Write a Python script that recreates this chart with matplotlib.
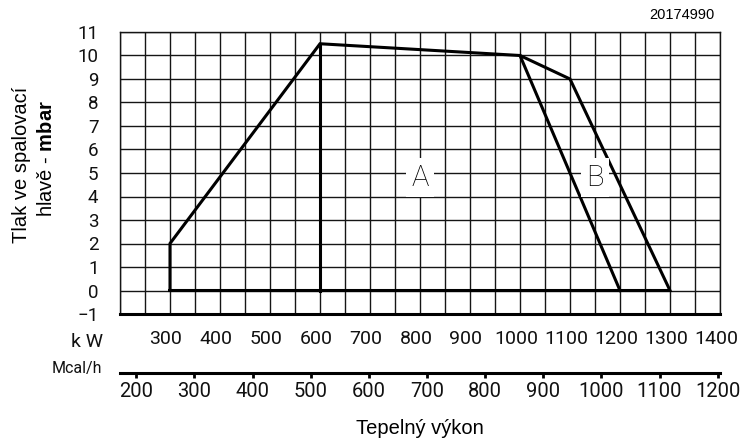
import numpy as np
import matplotlib
matplotlib.use('Agg')
import matplotlib.pyplot as plt
import matplotlib.transforms as mtransforms

plt.rcParams['font.family'] = ['Liberation Sans', 'DejaVu Sans']
plt.rcParams['mathtext.fontset'] = 'custom'
plt.rcParams['mathtext.rm'] = 'Liberation Sans'
plt.rcParams['mathtext.bf'] = 'Liberation Sans:bold'

# ---- data ----
envelope_kw = [300, 300, 600, 1000, 1100, 1300, 300]
envelope_mbar = [0, 2, 10.5, 10, 9, 0, 0]
split_kw = [600, 600]
split_mbar = [10.5, 0]
curve_a_kw = [1000, 1200]
curve_a_mbar = [10, 0]
region_labels = ['A', 'B']
region_kw = [800, 1150]
region_mbar = [4.8, 4.8]

kw_ticks = [300, 400, 500, 600, 700, 800, 900, 1000, 1100, 1200, 1300, 1400]
kw_grid = np.arange(200, 1401, 50)
mcal_ticks = [200, 300, 400, 500, 600, 700, 800, 900, 1000, 1100, 1200]
mbar_ticks = list(range(-1, 12))
KW_TO_MCAL = 0.86

TICKFONT = dict(family=['Roboto', 'Liberation Sans'], weight='normal', color='#111111')

W, H = 742, 441
fig = plt.figure(figsize=(W / 100, H / 100), dpi=100)
ax = fig.add_axes([120 / W, (H - 314) / H, 600 / W, 282 / H])

ax.set_xlim(200, 1400)
ax.set_ylim(-1, 11)

ax.set_xticks(kw_grid, minor=True)
ax.set_xticks(kw_ticks)
ax.set_xticklabels([str(v) for v in kw_ticks], fontsize=14, **TICKFONT)
ax.set_yticks(mbar_ticks)
ax.set_yticklabels(['\u22121' if v < 0 else str(v) for v in mbar_ticks],
                   fontsize=13.5, **TICKFONT)

gcol = '#151515'
ax.grid(True, which='both', axis='x', color=gcol, lw=1.0)
ax.grid(True, which='major', axis='y', color=gcol, lw=1.0)
ax.set_axisbelow(True)
for s in ['left', 'right', 'top']:
    ax.spines[s].set_linewidth(1.0)
    ax.spines[s].set_color(gcol)
ax.spines['bottom'].set_linewidth(2.2)
ax.spines['bottom'].set_color('black')

ax.tick_params(axis='x', which='both', length=0, pad=11.5)
ax.tick_params(axis='y', which='both', length=0, pad=15.5)

shift = mtransforms.ScaledTranslation(-4 / 100, 0, fig.dpi_scale_trans)
for lbl in ax.get_xticklabels():
    lbl.set_transform(lbl.get_transform() + shift)

ax.plot(envelope_kw, envelope_mbar, color='black', lw=2.2, solid_joinstyle='miter')
ax.plot(split_kw, split_mbar, color='black', lw=2.2)
ax.plot(curve_a_kw, curve_a_mbar, color='black', lw=2.2)

for lab, xk, ym in zip(region_labels, region_kw, region_mbar):
    ax.text(xk, ym, lab, ha='center', va='center', fontsize=21,
            family=['Roboto', 'Liberation Sans'], weight='light', color='black',
            bbox=dict(facecolor='white', edgecolor='none', pad=4))

sec = ax.secondary_xaxis((314 - 373) / 282,
                         functions=(lambda k: k * KW_TO_MCAL, lambda m: m / KW_TO_MCAL))
sec.set_xticks(mcal_ticks)
sec.set_xticklabels([str(v) for v in mcal_ticks], fontsize=14.5, **TICKFONT)
sec.spines['bottom'].set_linewidth(2.2)
sec.tick_params(axis='x', direction='out', length=3.5, width=2, pad=3)

fig.text(103 / W, 1 - 342 / H, 'k W', ha='right', va='center', fontsize=14, **TICKFONT)
fig.text(102 / W, 1 - 369 / H, 'Mcal/h', ha='right', va='center', fontsize=11.5, **TICKFONT)
fig.text(715 / W, 1 - 15 / H, '20174990', ha='right', va='center', fontsize=10.5)
fig.text(420 / W, 1 - 428 / H, 'Tepelný výkon', ha='center', va='center', fontsize=14.5)
fig.text(22 / W, 1 - 165 / H, 'Tlak ve spalovací', rotation=90,
         ha='center', va='center', fontsize=14.5)
fig.text(46 / W, 1 - 159 / H, 'hlavě - $\\mathbf{mbar}$', rotation=90,
         ha='center', va='center', fontsize=14.5)

fig.savefig('out.png', dpi=100)
